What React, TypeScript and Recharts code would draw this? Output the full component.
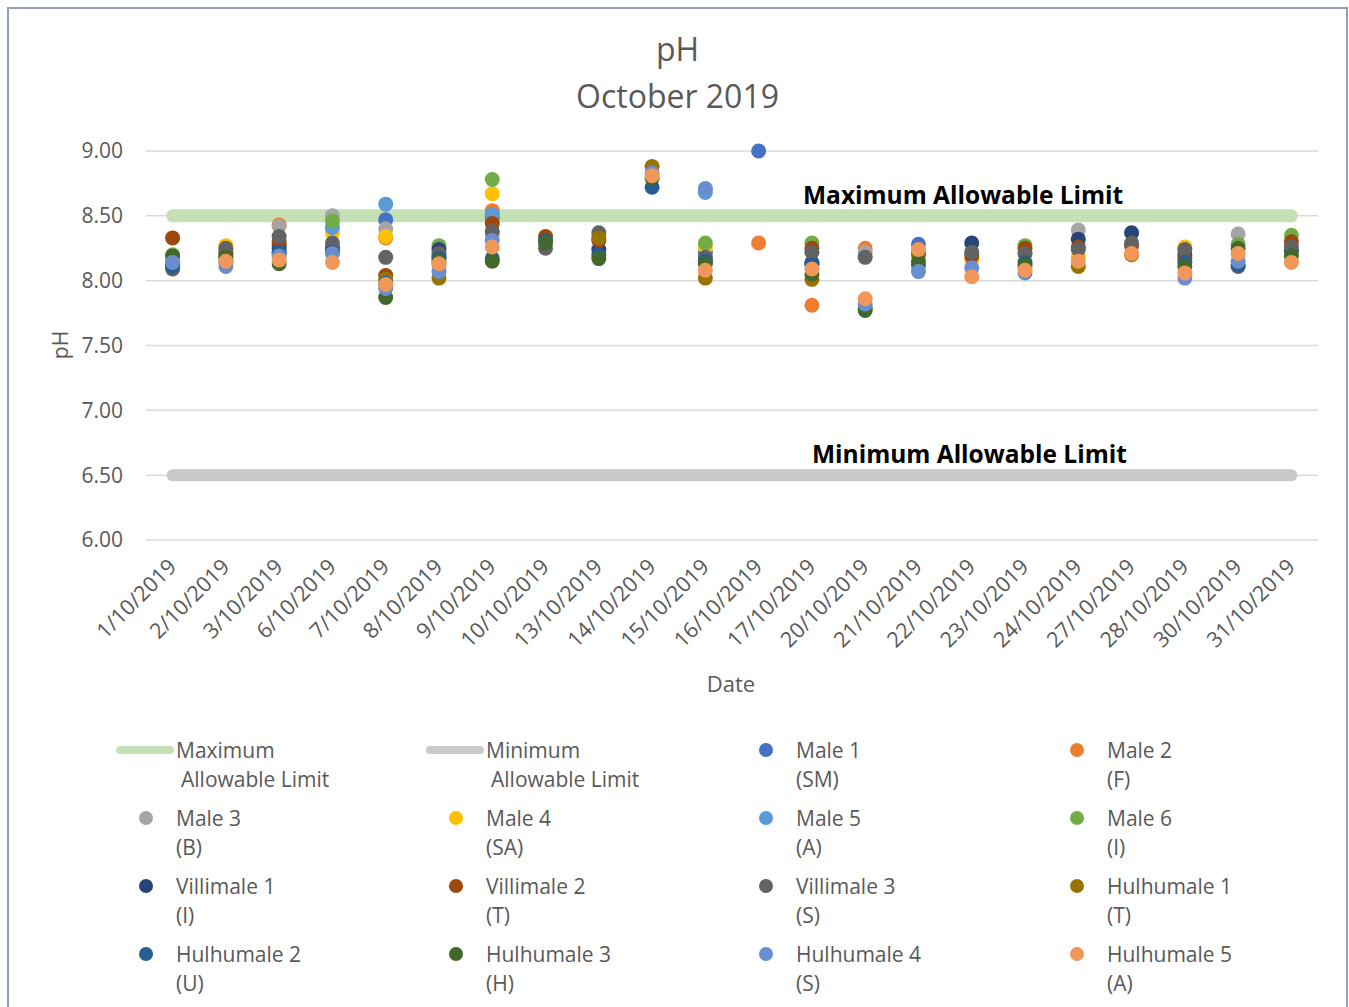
import React from "react"
import { ComposedChart, Line, Scatter, XAxis, YAxis, CartesianGrid } from "recharts"

const dates = [
  "1/10/2019", "2/10/2019", "3/10/2019", "6/10/2019", "7/10/2019", "8/10/2019", "9/10/2019", "10/10/2019",
  "13/10/2019", "14/10/2019", "15/10/2019", "16/10/2019", "17/10/2019", "20/10/2019", "21/10/2019", "22/10/2019",
  "23/10/2019", "24/10/2019", "27/10/2019", "28/10/2019", "30/10/2019", "31/10/2019",
]

const maxLimit = 8.5
const minLimit = 6.5
const yTicks = [6, 6.5, 7, 7.5, 8, 8.5, 9]

const male1 = [8.15, 8.14, 8.25, 8.24, 8.47, 8.19, 8.49, null, null, null, 8.22, 9.0, 8.14, null, 8.28, null, null, null, null, null, null, null]
const male2 = [null, 8.16, 8.43, 8.25, 8.33, 8.12, 8.54, null, null, null, null, 8.29, 7.81, 8.25, null, null, null, null, null, null, null, null]
const male3 = [null, 8.24, 8.42, 8.5, 8.4, null, 8.36, null, null, null, null, null, null, 8.22, null, null, null, 8.39, null, null, 8.36, null]
const male4 = [null, 8.27, null, 8.37, 8.34, null, 8.67, null, null, null, 8.26, null, null, null, null, 8.16, 8.1, 8.18, null, 8.26, null, null]
const male5 = [8.13, null, 8.22, 8.41, 8.59, 8.18, 8.51, null, null, null, 8.68, null, null, null, null, null, null, null, null, null, null, null]
const male6 = [8.2, null, 8.2, 8.46, null, 8.27, 8.78, null, null, null, 8.29, null, 8.29, null, null, null, 8.27, null, null, null, 8.28, 8.35]
const villimale1 = [8.12, 8.2, 8.27, 8.23, null, 8.24, null, null, 8.24, null, 8.16, null, 8.13, null, null, 8.29, null, 8.32, 8.37, 8.2, null, 8.23]
const villimale2 = [8.33, 8.22, 8.3, 8.26, 8.04, null, 8.44, 8.34, 8.31, null, null, null, 8.25, null, 8.21, 8.19, 8.25, 8.26, 8.27, 8.17, null, 8.3]
const villimale3 = [8.09, 8.25, 8.34, 8.29, 8.18, 8.21, 8.38, 8.25, 8.37, null, 8.18, null, 8.22, 8.18, null, 8.22, 8.21, 8.24, 8.29, 8.24, 8.11, 8.26]
const hulhumale1 = [null, null, null, null, 8.01, 8.02, null, null, 8.33, 8.88, 8.02, null, 8.01, 7.79, 8.2, null, null, 8.11, 8.2, null, null, null]
const hulhumale2 = [8.11, null, 8.22, 8.22, 7.98, 8.17, 8.17, 8.31, 8.2, 8.72, 8.15, null, 8.12, null, 8.12, null, 8.14, null, null, 8.14, 8.12, null]
const hulhumale3 = [8.19, 8.18, 8.13, null, 7.87, 8.15, 8.15, 8.29, 8.17, 8.79, 8.13, null, 8.05, 7.77, 8.15, null, 8.12, null, null, 8.11, 8.25, 8.19]
const hulhumale4 = [8.14, 8.11, 8.19, 8.21, 7.94, 8.07, 8.31, null, null, 8.83, 8.71, null, null, 7.82, 8.07, 8.1, 8.06, null, null, 8.02, 8.15, null]
const hulhumale5 = [null, 8.15, 8.16, 8.14, 7.97, 8.13, 8.26, null, null, 8.81, 8.08, null, 8.09, 7.86, 8.24, 8.03, 8.08, 8.15, 8.21, 8.06, 8.21, 8.14]

const series = [
  { key: "m1", name: "Male 1", code: "(SM)", values: male1, color: "#4472C4" },
  { key: "m2", name: "Male 2", code: "(F)", values: male2, color: "#ED7D31" },
  { key: "m3", name: "Male 3", code: "(B)", values: male3, color: "#A5A5A5" },
  { key: "m4", name: "Male 4", code: "(SA)", values: male4, color: "#FFC000" },
  { key: "m5", name: "Male 5", code: "(A)", values: male5, color: "#5B9BD5" },
  { key: "m6", name: "Male 6", code: "(I)", values: male6, color: "#70AD47" },
  { key: "v1", name: "Villimale 1", code: "(I)", values: villimale1, color: "#264478" },
  { key: "v2", name: "Villimale 2", code: "(T)", values: villimale2, color: "#9E480E" },
  { key: "v3", name: "Villimale 3", code: "(S)", values: villimale3, color: "#636363" },
  { key: "h1", name: "Hulhumale 1", code: "(T)", values: hulhumale1, color: "#997300" },
  { key: "h2", name: "Hulhumale 2", code: "(U)", values: hulhumale2, color: "#255E91" },
  { key: "h3", name: "Hulhumale 3", code: "(H)", values: hulhumale3, color: "#43682B" },
  { key: "h4", name: "Hulhumale 4", code: "(S)", values: hulhumale4, color: "#698ED0" },
  { key: "h5", name: "Hulhumale 5", code: "(A)", values: hulhumale5, color: "#F1975A" },
]

const data = dates.map((d, i) => {
  const row: any = { date: d, max: maxLimit, min: minLimit }
  series.forEach((s) => { row[s.key] = s.values[i] })
  return row
})

const FONT = "'Open Sans', sans-serif"
const TXT = "#595959"

function DateTick(props: any) {
  const { x, y, payload } = props
  return (
    <text x={x + 5} y={y + 20} transform={`rotate(-45 ${x + 5} ${y + 20})`} textAnchor="end"
      fontSize={21.5} fill={TXT} fontFamily={FONT}>
      {payload.value}
    </text>
  )
}

function dotShape(key: string, color: string) {
  return (p: any) => {
    if (p.payload == null || p.payload[key] == null || isNaN(p.cy)) return <g />
    return <circle cx={p.cx} cy={p.cy} r={7.5} fill={color} />
  }
}

const abs = (left: number, top: number, extra: any = {}) => ({ position: "absolute" as const, left, top, ...extra })

function LegendItem({ col, row, color, line, first, second }: any) {
  const colX = [0, 310, 620, 931][col]
  const rowY = [741, 809, 877, 945][row]
  return (
    <>
      {line ? (
        <div style={abs(107 + colX, rowY - 4, { width: 58, height: 8, borderRadius: 4, background: color })} />
      ) : (
        <div style={abs(130 + colX, rowY - 7, { width: 14, height: 14, borderRadius: 7, background: color })} />
      )}
      <div style={abs(167 + colX, rowY - 14.5, { fontSize: 21, lineHeight: "29px", color: TXT, whiteSpace: "nowrap" })}>
        <div>{first}</div>
        <div style={{ paddingLeft: line ? 5 : 0 }}>{second}</div>
      </div>
    </>
  )
}

export default function App() {
  return (
    <div style={{ position: "fixed", left: 0, top: 0, width: 1349, height: 1007, overflow: "hidden", background: "#fff" }}>
      <div style={{ position: "absolute", left: 7, top: 7, width: 1341, height: 1020, boxSizing: "border-box", border: "2px solid #8EA0BF", fontFamily: FONT, background: "#fff" }}>
        <div style={abs(0, 20, { width: 1337, textAlign: "center", fontSize: 32, color: TXT, lineHeight: "40px" })}>pH</div>
        <div style={abs(0, 67, { width: 1337, textAlign: "center", fontSize: 32, color: TXT, lineHeight: "40px" })}>October 2019</div>

        <div style={{ position: "absolute", left: -1, top: -1 }}>
          <ComposedChart width={1339} height={720} data={data} margin={{ top: 143, right: 29, bottom: 38, left: 0 }}>
            <CartesianGrid vertical={false} stroke="#D9D9D9" strokeWidth={1.5} />
            <XAxis dataKey="date" type="category" axisLine={false} tickLine={false} interval={0} height={150}
              padding={{ left: 26.6, right: 26.6 }} tick={<DateTick />} />
            <YAxis type="number" domain={[6, 9]} ticks={yTicks} width={138} axisLine={false} tickLine={false} tickMargin={17}
              tickFormatter={(v: number) => v.toFixed(2)} tick={{ fontSize: 21, fill: TXT, fontFamily: FONT }} />
            <Line dataKey="max" stroke="#C5E0B4" strokeWidth={13} strokeLinecap="round" dot={false} activeDot={false} isAnimationActive={false} />
            <Line dataKey="min" stroke="#C9C9C9" strokeWidth={12} strokeLinecap="round" dot={false} activeDot={false} isAnimationActive={false} />
            {series.map((s) => (
              <Scatter key={s.key} dataKey={s.key} fill={s.color} shape={dotShape(s.key, s.color)} isAnimationActive={false} />
            ))}
          </ComposedChart>
        </div>

        <div style={abs(794, 169, { fontSize: 24.5, fontWeight: 700, color: "#000", whiteSpace: "nowrap", lineHeight: "34px" })}>Maximum Allowable Limit</div>
        <div style={abs(803, 428, { fontSize: 24.5, fontWeight: 700, color: "#000", whiteSpace: "nowrap", lineHeight: "34px" })}>Minimum Allowable Limit</div>

        <div style={abs(51 - 30, 336 - 15, { width: 60, height: 30, textAlign: "center", fontSize: 21, color: TXT, lineHeight: "30px", transform: "rotate(-90deg)" })}>pH</div>
        <div style={abs(722 - 40, 674 - 15, { width: 80, textAlign: "center", fontSize: 22, color: TXT, lineHeight: "30px" })}>Date</div>

        <LegendItem col={0} row={0} line color="#C5E0B4" first="Maximum" second="Allowable Limit" />
        <LegendItem col={1} row={0} line color="#C9C9C9" first="Minimum" second="Allowable Limit" />
        {series.map((s, i) => (
          <LegendItem key={s.key} col={(i + 2) % 4} row={Math.floor((i + 2) / 4)} color={s.color} first={s.name} second={s.code} />
        ))}
      </div>
    </div>
  )
}
